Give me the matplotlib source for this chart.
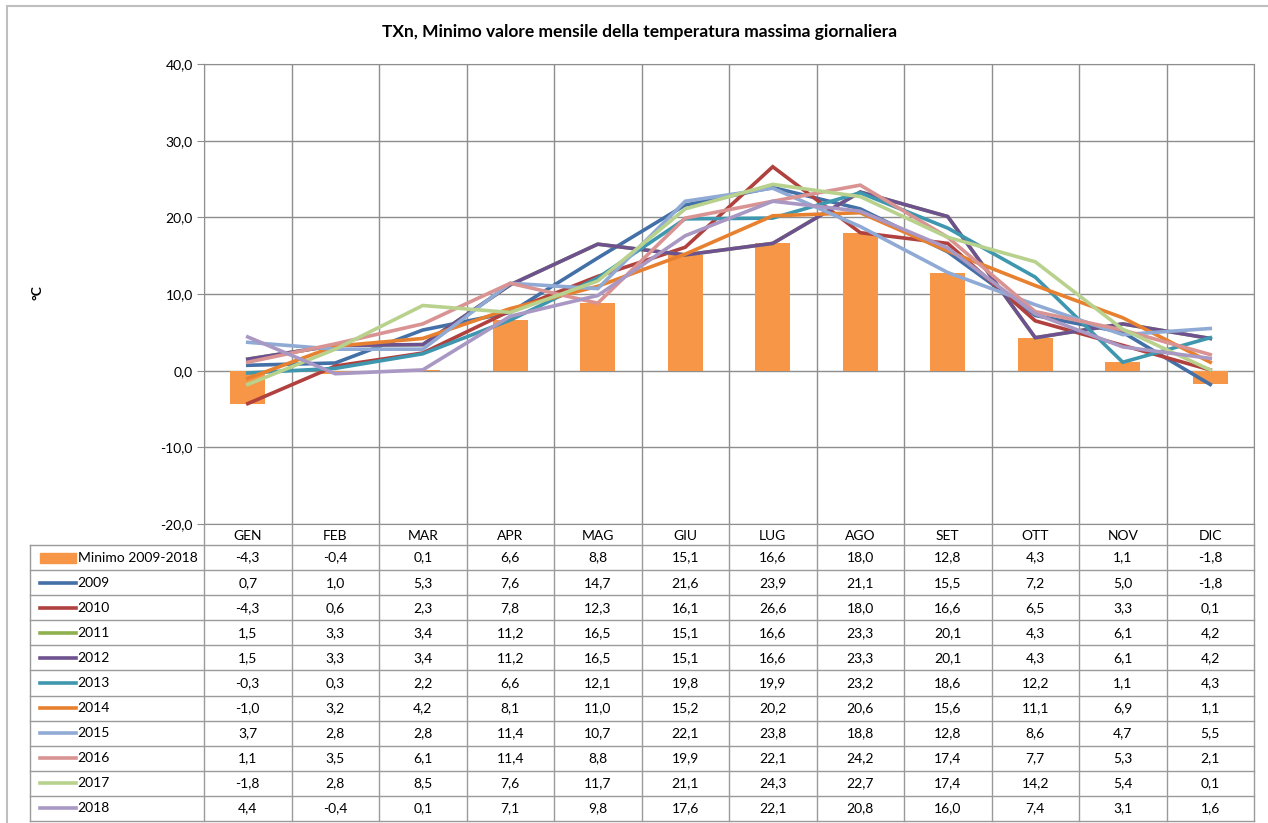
import numpy as np
import matplotlib.pyplot as plt
from matplotlib.patches import Rectangle

plt.rcParams['font.family'] = ['Lato', 'DejaVu Sans']

months = ["GEN", "FEB", "MAR", "APR", "MAG", "GIU", "LUG", "AGO", "SET", "OTT", "NOV", "DIC"]

minimo = [-4.3, -0.4, 0.1, 6.6, 8.8, 15.1, 16.6, 18.0, 12.8, 4.3, 1.1, -1.8]

years = ["2009", "2010", "2011", "2012", "2013", "2014", "2015", "2016", "2017", "2018"]
y2009 = [0.7, 1.0, 5.3, 7.6, 14.7, 21.6, 23.9, 21.1, 15.5, 7.2, 5.0, -1.8]
y2010 = [-4.3, 0.6, 2.3, 7.8, 12.3, 16.1, 26.6, 18.0, 16.6, 6.5, 3.3, 0.1]
y2011 = [1.5, 3.3, 3.4, 11.2, 16.5, 15.1, 16.6, 23.3, 20.1, 4.3, 6.1, 4.2]
y2012 = [1.5, 3.3, 3.4, 11.2, 16.5, 15.1, 16.6, 23.3, 20.1, 4.3, 6.1, 4.2]
y2013 = [-0.3, 0.3, 2.2, 6.6, 12.1, 19.8, 19.9, 23.2, 18.6, 12.2, 1.1, 4.3]
y2014 = [-1.0, 3.2, 4.2, 8.1, 11.0, 15.2, 20.2, 20.6, 15.6, 11.1, 6.9, 1.1]
y2015 = [3.7, 2.8, 2.8, 11.4, 10.7, 22.1, 23.8, 18.8, 12.8, 8.6, 4.7, 5.5]
y2016 = [1.1, 3.5, 6.1, 11.4, 8.8, 19.9, 22.1, 24.2, 17.4, 7.7, 5.3, 2.1]
y2017 = [-1.8, 2.8, 8.5, 7.6, 11.7, 21.1, 24.3, 22.7, 17.4, 14.2, 5.4, 0.1]
y2018 = [4.4, -0.4, 0.1, 7.1, 9.8, 17.6, 22.1, 20.8, 16.0, 7.4, 3.1, 1.6]
series = [y2009, y2010, y2011, y2012, y2013, y2014, y2015, y2016, y2017, y2018]

colors = ["#4470A8", "#B0413E", "#8FB04E", "#6E5290", "#3E97AE",
          "#E8812F", "#90AAD6", "#D99392", "#B8D28E", "#A998C4"]
bar_color = "#F79646"
grid_color = "#8E8E8E"

W, H = 1268, 823
fig = plt.figure(figsize=(W / 100, H / 100), dpi=100)

# outer chart border
fig.patches.append(Rectangle((7 / W, -0.01), 1.02, 1 - 6 / H + 0.01, transform=fig.transFigure,
                             fill=False, edgecolor="#BFBFBF", lw=1.5))

# main plot area (pixel positions of the reference)
x0, x1 = 204, 1254
y_top, y_bot = 64, 524
ax = fig.add_axes([x0 / W, 1 - y_bot / H, (x1 - x0) / W, (y_bot - y_top) / H])

x = np.arange(len(months))
ax.bar(x, minimo, width=0.4, color=bar_color, zorder=2)
for vals, c in zip(series, colors):
    ax.plot(x, vals, color=c, lw=2.6, zorder=3, solid_joinstyle='miter')

ax.set_xlim(-0.5, 11.5)
ax.set_ylim(-20, 40)
ax.set_yticks(np.arange(-20, 41, 10))
ax.set_yticklabels([f"{v:.1f}".replace(".", ",") for v in np.arange(-20, 41, 10)], fontsize=10)
ax.set_xticks(np.arange(-0.5, 12, 1))
ax.set_xticklabels([])
ax.tick_params(axis='x', length=0)
ax.tick_params(axis='y', length=5, color=grid_color, pad=3)
ax.grid(True, color=grid_color, lw=1, zorder=0)
for s in ax.spines.values():
    s.set_color(grid_color)
ax.set_axisbelow(True)

fig.text(38 / W, 1 - 293 / H, "°C", rotation=90, ha='center', va='center', fontsize=10, fontweight='bold')
fig.text(640 / W, 1 - 32 / H, "TXn, Minimo valore mensile della temperatura massima giornaliera",
         ha='center', va='center', fontsize=12.5, fontweight='bold')

# data table below the plot
t_top, t_bot = 524, 821
row_h = 25
header_h = 21
tax = fig.add_axes([x0 / W, 1 - t_bot / H, (x1 - x0) / W, (t_bot - t_top) / H])
n_rows = 1 + len(series)
tax.set_xlim(-0.5, 11.5)
tax.set_ylim(n_rows, -header_h / row_h)
tax.axis('off')

label_left = -0.5 - (x0 - 30) / ((x1 - x0) / 12)
lc = "#9A9A9A"
# vertical lines
for xv in np.arange(-0.5, 12, 1):
    tax.plot([xv, xv], [-header_h / row_h, n_rows], color=lc, lw=1, clip_on=False)
tax.plot([label_left, label_left], [0, n_rows], color=lc, lw=1, clip_on=False)
# horizontal lines
for r in range(n_rows + 1):
    tax.plot([label_left, 11.5], [r, r], color=lc, lw=1, clip_on=False)

for i, m in enumerate(months):
    tax.text(i, -header_h / row_h / 2 + 0.05, m, ha='center', va='center', fontsize=10)

rows = [minimo] + series
labels = ["Minimo 2009-2018"] + years
key_x0 = label_left + 10 / 87.5
key_x1 = label_left + 46 / 87.5
for r, (lab, vals) in enumerate(zip(labels, rows)):
    yc = r + 0.5
    if r == 0:
        tax.add_patch(Rectangle((key_x0, yc - 0.2), key_x1 - key_x0, 0.4, color=bar_color, clip_on=False))
    else:
        tax.plot([key_x0, key_x1], [yc, yc], color=colors[r - 1], lw=2.6, clip_on=False)
    tax.text(key_x1 + 0.02, yc, lab, ha='left', va='center', fontsize=10, clip_on=False)
    for i, v in enumerate(vals):
        tax.text(i, yc, f"{v:.1f}".replace(".", ","), ha='center', va='center', fontsize=10)

fig.savefig("out.png", dpi=100, facecolor="white")
